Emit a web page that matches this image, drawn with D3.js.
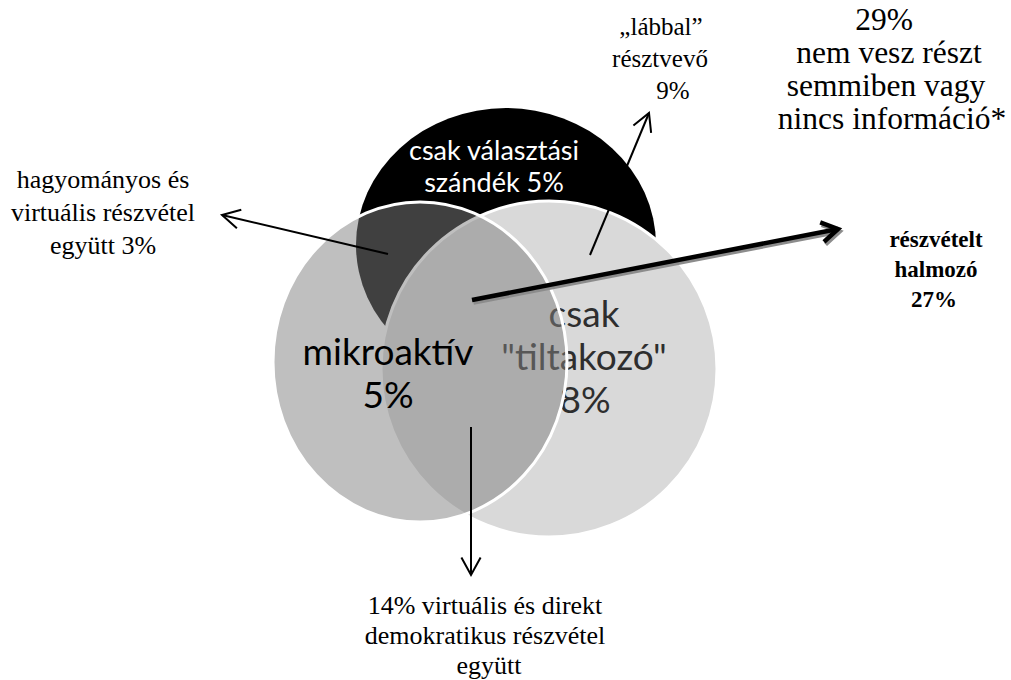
<!DOCTYPE html>
<html>
<head>
<meta charset="utf-8">
<script src="https://cdn.jsdelivr.net/npm/d3@7"></script>
<style>
  body { margin: 0; background: #fff; }
</style>
</head>
<body>
<div id="chart"></div>
<script>
const svgWidth = 1011;
const svgHeight = 680;

// ---- data ----
// the three groups of the venn diagram (drawing order: back to front)
const setKeys = ["valasztas", "tiltakozo", "mikroaktiv"];
const setShares = [5, 8, 5];
const setLabelLines = [
    ["csak választási", "szándék " + setShares[0] + "%"],
    ["csak", "\"tiltakozó\"", setShares[1] + "%"],
    ["mikroaktív", setShares[2] + "%"]
];

// callouts around the diagram
const calloutKeys = ["labbal", "hagyomanyos", "virtualis", "halmozo", "nemvesz"];
const calloutShares = [9, 3, 14, 27, 29];
const calloutLines = [
    ["„lábbal”", "résztvevő", calloutShares[0] + "%"],
    ["hagyományos és", "virtuális részvétel", "együtt " + calloutShares[1] + "%"],
    [calloutShares[2] + "% virtuális és direkt", "demokratikus részvétel", "együtt"],
    ["részvételt", "halmozó", calloutShares[3] + "%"],
    [calloutShares[4] + "%", "nem vesz részt", "semmiben vagy", "nincs információ*"]
];

// ---- layout (pixels) ----
var shapeLayout = {
    valasztas:  {cx: 506, cy: 245, rx: 150, ry: 137, fill: "#000", stroke: "none", opacity: 1},
    tiltakozo:  {cx: 549, cy: 369, rx: 168, ry: 168, fill: "#d9d9d9", stroke: "#fff", opacity: 1},
    mikroaktiv: {cx: 420, cy: 362, rx: 147, ry: 160, fill: "#808080", stroke: "#fff", opacity: 0.5}
};
var setLabelLayout = {
    valasztas:  {x: [494, 494], y: 160, size: 27, lh: 32, color: "#fff"},
    tiltakozo:  {x: [584, 584, 585], y: 327, size: 37, lh: 43, color: "#2e2e2e"},
    mikroaktiv: {x: [388, 388], y: 365, size: 37, lh: 43, color: "#000"}
};
var calloutLayout = {
    labbal:      {x: [661, 660, 673], y: 35,  size: 25, lh: 32, weight: "normal", arrow: [590, 255, 649, 113], thick: false},
    hagyomanyos: {x: [103, 103, 103], y: 188, size: 26, lh: 33, weight: "normal", arrow: [388, 254, 222, 215], thick: false},
    virtualis:   {x: [485, 485, 489], y: 614, size: 26, lh: 30, weight: "normal", arrow: [471, 427, 471, 575], thick: false},
    halmozo:     {x: [936, 936, 934], y: 247, size: 23, lh: 30, weight: "bold", arrow: [472, 300, 838, 229], thick: true},
    nemvesz:     {x: [884, 889, 886, 892], y: 30, size: 31.5, lh: 33, weight: "normal", arrow: null, thick: false}
};

var svg = d3.select("#chart")
    .append("svg")
        .attr("width", svgWidth)
        .attr("height", svgHeight)
        .style("display", "block");

function drawShape(key) {
    var s = shapeLayout[key];
    svg.append("ellipse")
        .attr("class", "set " + key)
        .attr("cx", s.cx).attr("cy", s.cy)
        .attr("rx", s.rx).attr("ry", s.ry)
        .attr("fill", s.fill)
        .attr("fill-opacity", s.opacity)
        .attr("stroke", s.stroke)
        .attr("stroke-width", 3);
}

function drawSetLabel(i) {
    var key = setKeys[i], l = setLabelLayout[key];
    var t = svg.append("text")
        .attr("class", "set-label")
        .attr("text-anchor", "middle")
        .attr("font-family", "Lato, 'Open Sans', sans-serif")
        .attr("font-size", l.size + "px")
        .attr("fill", l.color);
    t.selectAll("tspan")
        .data(setLabelLines[i])
        .enter().append("tspan")
            .attr("x", function(d, j){ return l.x[j]; })
            .attr("y", function(d, j){ return l.y + j * l.lh; })
            .text(function(d){ return d; });
}

// black circle, then the right one, its label (partly under the left circle), then the left circle
drawShape("valasztas");
drawSetLabel(0);
drawShape("tiltakozo");
drawSetLabel(1);
drawShape("mikroaktiv");
drawSetLabel(2);

// arrows
function chevron(a, len, spread) {
    var x1 = a[0], y1 = a[1], x2 = a[2], y2 = a[3];
    var ang = Math.atan2(y2 - y1, x2 - x1);
    var p1 = [x2 - len * Math.cos(ang - spread), y2 - len * Math.sin(ang - spread)];
    var p2 = [x2 - len * Math.cos(ang + spread), y2 - len * Math.sin(ang + spread)];
    return "M" + p1 + "L" + x2 + "," + y2 + "L" + p2;
}

function drawArrow(a, thick, dx, dy, color) {
    var g = svg.append("g")
        .attr("class", "arrow")
        .attr("transform", "translate(" + dx + "," + dy + ")");
    var w = thick ? 4.5 : 2;
    g.append("line")
        .attr("x1", a[0]).attr("y1", a[1])
        .attr("x2", a[2]).attr("y2", a[3])
        .attr("stroke", color)
        .attr("stroke-width", w);
    g.append("path")
        .attr("d", chevron(a, thick ? 19 : 20, thick ? 0.55 : 0.5))
        .attr("fill", "none")
        .attr("stroke", color)
        .attr("stroke-width", w)
        .attr("stroke-linejoin", "miter");
}

calloutKeys.forEach(function(key, i){
    var c = calloutLayout[key];
    if (c.arrow) {
        // the thick arrow has a grey drop shadow
        if (c.thick) drawArrow(c.arrow, true, 1.5, 2.5, "#8c8c8c");
        drawArrow(c.arrow, c.thick, 0, 0, "#000");
    }
    var t = svg.append("text")
        .attr("class", "callout")
        .attr("text-anchor", "middle")
        .attr("font-family", "'Liberation Serif', 'Times New Roman', serif")
        .attr("font-size", c.size + "px")
        .attr("font-weight", c.weight)
        .attr("fill", "#000");
    t.selectAll("tspan")
        .data(calloutLines[i])
        .enter().append("tspan")
            .attr("x", function(d, j){ return c.x[j]; })
            .attr("y", function(d, j){ return c.y + j * c.lh; })
            .text(function(d){ return d; });
});
</script>
</body>
</html>
